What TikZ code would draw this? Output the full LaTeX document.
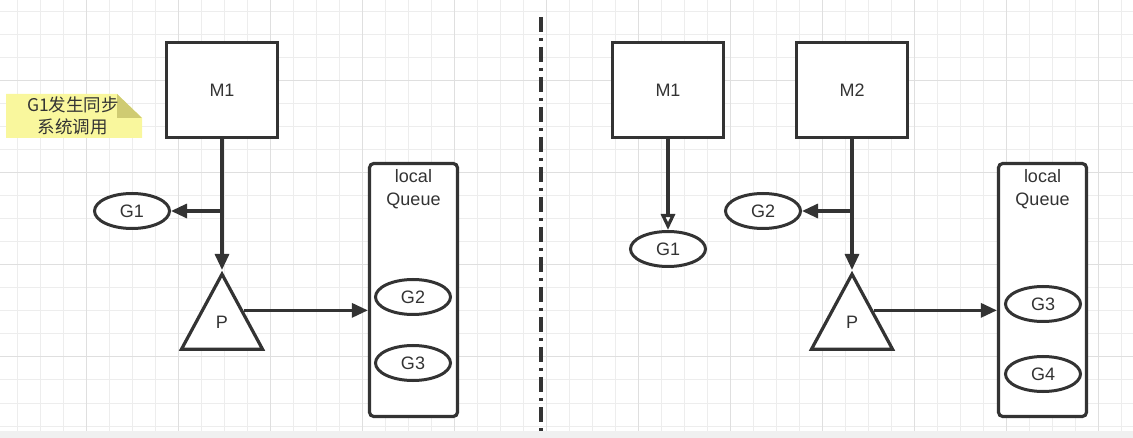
\documentclass[tikz,border=0pt]{standalone}
\usepackage{fontspec}
\setmainfont{Liberation Sans}
\newfontfamily\cjk{Noto Sans CJK SC}
\usetikzlibrary{arrows.meta,shapes.geometric,positioning}
\definecolor{ink}{HTML}{333333}
\definecolor{gridminor}{HTML}{EDEDED}
\definecolor{gridmajor}{HTML}{DFDFDF}
\definecolor{notefill}{HTML}{F9F79D}
\definecolor{notefold}{HTML}{CFCB72}
\definecolor{bandfill}{HTML}{F0F0F0}
\begin{document}
\begin{tikzpicture}[
    x=1pt, y=-1pt,
    every node/.style={text=ink, font=\fontsize{18}{22}\selectfont},
    machine/.style={rectangle, draw=ink, line width=3.2pt, fill=white,
        minimum width=111pt, minimum height=95pt},
    gor/.style={ellipse, draw=ink, line width=3pt, fill=white,
        minimum width=75pt, minimum height=35pt, inner sep=0pt},
    proc/.style={isosceles triangle, isosceles triangle stretches,
        shape border rotate=90, draw=ink, line width=3.2pt, fill=white,
        minimum width=81pt, minimum height=75pt, inner sep=0pt},
    queue/.style={rectangle, draw=ink, line width=3.2pt, rounded corners=1.5mm,
        fill=white, minimum width=88pt, minimum height=253pt},
    queuetext/.style={align=center, font=\fontsize{18}{23}\selectfont},
    arrowstyle/.style={draw=ink, line width=3.2pt,
        -{Triangle[length=16pt,width=14pt]}},
    openarrow/.style={draw=ink, line width=3.2pt,
        -{Triangle[open,fill=white,length=16pt,width=14pt]}}
]
\useasboundingbox (0,0) rectangle (1133,438);
% background grid
\foreach \gx in {17,40,...,1133} \draw[gridminor, line width=1pt] (\gx,0) -- (\gx,431);
\foreach \gy in {12,35,...,431} \draw[gridminor, line width=1pt] (0,\gy) -- (1133,\gy);
\foreach \gx in {86,178,...,1133} \draw[gridmajor, line width=1pt] (\gx,0) -- (\gx,431);
\foreach \gy in {81,173,...,431} \draw[gridmajor, line width=1pt] (0,\gy) -- (1133,\gy);
\fill[bandfill] (0,431) rectangle (1133,438);

% divider
\draw[ink, line width=3.4pt, dash pattern=on 15pt off 6pt on 3pt off 6pt] (541,17) -- (541,431);

% note
\fill[notefill] (6,94) -- (117,94) -- (142,118) -- (142,138) -- (6,138) -- cycle;
\fill[notefold] (117,94) -- (142,118) -- (117,118) -- cycle;
\node[align=center, font=\cjk\fontsize{17.5}{22}\selectfont] (Note01) at (73,116) {G1发生同步\\系统调用};

% left: syscall on M1
\node[machine] (Machine01) at (222,90) {M1};
\node[gor] (Gor01) at (132,211) {G1};
\node[proc] (Proc01) at (222,325) {};
\node (Proc01Text) at ([yshift=3pt]Proc01.center) {P};
\node[queue] (Queue01) at (413.5,290) {};
\node[queuetext, below=4pt of Queue01.north] (Queue01Text) {local\\Queue};
\node[gor] (Gor02) at (413,297) {G2};
\node[gor] (Gor03) at (413,363) {G3};

\draw[arrowstyle] (Machine01.south) -- (Proc01.apex);
\coordinate (Branch01) at (Machine01.south |- Gor01.east);
\draw[arrowstyle] (Branch01) -- (Gor01.east);
\draw[arrowstyle] (Proc01.right side) -- (Proc01.right side -| Queue01.west);

% right: P handed to M2
\node[machine] (Machine02) at (668,90) {M1};
\node[gor] (Gor04) at (668,249) {G1};
\node[machine] (Machine03) at (852,90) {M2};
\node[gor] (Gor05) at (763,211) {G2};
\node[proc] (Proc02) at (852,325) {};
\node (Proc02Text) at ([yshift=3pt]Proc02.center) {P};
\node[queue] (Queue02) at (1042.5,290) {};
\node[queuetext, below=4pt of Queue02.north] (Queue02Text) {local\\Queue};
\node[gor] (Gor06) at (1043,304) {G3};
\node[gor] (Gor07) at (1043,374) {G4};

\draw[openarrow] (Machine02.south) -- (Gor04.north);
\draw[arrowstyle] (Machine03.south) -- (Proc02.apex);
\coordinate (Branch02) at (Machine03.south |- Gor05.east);
\draw[arrowstyle] (Branch02) -- (Gor05.east);
\draw[arrowstyle] (Proc02.right side) -- (Proc02.right side -| Queue02.west);
\end{tikzpicture}
\end{document}
